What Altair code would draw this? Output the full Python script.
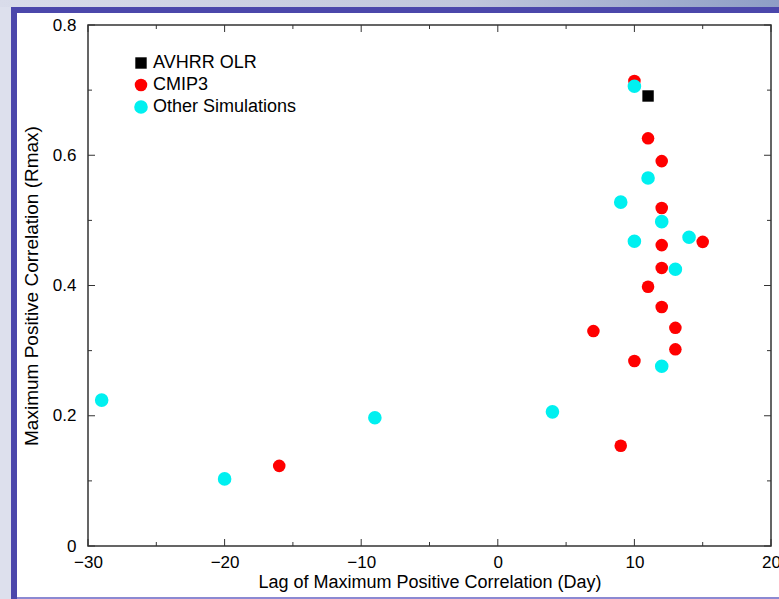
import altair as alt
import pandas as pd

# ---- data ----
series_names = ["AVHRR OLR", "CMIP3", "Other Simulations"]
series_colors = ["#000000", "#ff0000", "#00f0f0"]

cmip3_lag = [-16, 10, 11, 12, 12, 12, 15, 12, 11, 12, 7, 13, 13, 10, 9]
cmip3_r = [0.123, 0.714, 0.626, 0.591, 0.519, 0.462, 0.467, 0.427, 0.398,
           0.367, 0.330, 0.335, 0.302, 0.284, 0.154]

other_lag = [-29, -20, -9, 4, 10, 9, 11, 10, 12, 14, 13, 12]
other_r = [0.224, 0.103, 0.197, 0.206, 0.706, 0.528, 0.565, 0.468, 0.498,
           0.474, 0.425, 0.276]

avhrr_lag = [11]
avhrr_r = [0.691]

x_major = [-30, -20, -10, 0, 10, 20]
x_minor = [-25, -15, -5, 5, 15]
y_major = [0, 0.2, 0.4, 0.6, 0.8]
y_minor = [0.1, 0.3, 0.5, 0.7]

# ---- tables ----
rows = []
for x, y in zip(cmip3_lag, cmip3_r):
    rows.append({"lag": x, "r": y, "series": "CMIP3"})
for x, y in zip(other_lag, other_r):
    rows.append({"lag": x, "r": y, "series": "Other Simulations"})
for x, y in zip(avhrr_lag, avhrr_r):
    rows.append({"lag": x, "r": y, "series": "AVHRR OLR"})
pts = pd.DataFrame(rows)

W, H = 683, 521
FONT = "Liberation Sans"

xscale = alt.Scale(domain=[-30, 20], nice=False, zero=False)
yscale = alt.Scale(domain=[0, 0.8], nice=False, zero=False)

one = pd.DataFrame({"a": [0]})

# ---- decoration: slide background, purple border ----
left_strip = alt.Chart(one).mark_rect(fill="#dde0ed").encode(
    x=alt.value(-88), x2=alt.value(-77), y=alt.value(-25), y2=alt.value(574))
top_strip = alt.Chart(one).mark_rect(
    fill=alt.LinearGradient(
        gradient="linear", x1=0, x2=1, y1=0, y2=0,
        stops=[alt.GradientStop(color="#d9dcea", offset=0),
               alt.GradientStop(color="#c0c6dc", offset=0.6),
               alt.GradientStop(color="#8e9ec6", offset=1)])
).encode(x=alt.value(-88), x2=alt.value(691), y=alt.value(-25), y2=alt.value(-18))
border = alt.Chart(one).mark_rect(fill="white", fillOpacity=0, stroke="#4b47ab",
                                  strokeWidth=6).encode(
    x=alt.value(-74), x2=alt.value(730), y=alt.value(-15), y2=alt.value(600))
bottom_line = alt.Chart(one).mark_rule(color="#8c89d2", strokeWidth=2).encode(
    x=alt.value(-71), x2=alt.value(700), y=alt.value(573), y2=alt.value(573))

# ---- ticks (inward) ----
tick_color = "#333333"


def xticks(vals, length):
    d = pd.DataFrame({"v": vals})
    bot = alt.Chart(d).mark_rule(color=tick_color, strokeWidth=1).encode(
        x=alt.X("v:Q", scale=xscale), y=alt.value(H), y2=alt.value(H - length))
    top = alt.Chart(d).mark_rule(color=tick_color, strokeWidth=1).encode(
        x=alt.X("v:Q", scale=xscale), y=alt.value(0), y2=alt.value(length))
    return [bot, top]


def yticks(vals, length):
    d = pd.DataFrame({"v": vals})
    lft = alt.Chart(d).mark_rule(color=tick_color, strokeWidth=1).encode(
        y=alt.Y("v:Q", scale=yscale), x=alt.value(0), x2=alt.value(length))
    rgt = alt.Chart(d).mark_rule(color=tick_color, strokeWidth=1).encode(
        y=alt.Y("v:Q", scale=yscale), x=alt.value(W), x2=alt.value(W - length))
    return [lft, rgt]


ticks = xticks(x_major, 7) + xticks(x_minor, 4) + yticks(y_major, 7) + yticks(y_minor, 4)

# ---- points ----
points = alt.Chart(pts).mark_point(filled=True, opacity=1, strokeWidth=0).encode(
    x=alt.X("lag:Q", scale=xscale,
            axis=alt.Axis(values=x_major, ticks=False, tickSize=0, domain=False,
                          grid=False, labelFontSize=17, labelFont=FONT,
                          labelColor="black", labelPadding=8, labelFlush=False,
                          labelOverlap=False,
                          title="Lag of Maximum Positive Correlation (Day)",
                          titleFont=FONT, titleFontSize=18, titleFontWeight="normal",
                          titleColor="black", titlePadding=3)),
    y=alt.Y("r:Q", scale=yscale,
            axis=alt.Axis(values=y_major, ticks=False, tickSize=0, domain=False,
                          grid=False, labelFontSize=17, labelFont=FONT,
                          labelColor="black", labelPadding=12, labelFlush=False,
                          labelOverlap=False,
                          labelExpr="datum.value == 0 ? '0' : format(datum.value, '.1f')",
                          title="Maximum Positive Correlation (Rmax)",
                          titleFont=FONT, titleFontSize=19, titleFontWeight="normal",
                          titleColor="black", titlePadding=11)),
    color=alt.Color("series:N",
                    scale=alt.Scale(domain=series_names, range=series_colors),
                    legend=alt.Legend(orient="none", legendX=44, legendY=29,
                                      title=None, labelFont=FONT, labelFontSize=18,
                                      labelColor="black", rowPadding=4,
                                      labelOffset=3, padding=0,
                                      symbolStrokeWidth=0)),
    shape=alt.Shape("series:N",
                    scale=alt.Scale(domain=series_names,
                                    range=["square", "circle", "circle"])),
    size=alt.Size("series:N",
                  scale=alt.Scale(domain=series_names, range=[130, 185, 185])),
)

chart = alt.layer(left_strip, top_strip, border, bottom_line, *ticks, points).properties(
    width=W, height=H,
    autosize=alt.AutoSizeParams(type="none"),
    padding={"left": 88, "top": 25, "right": 8, "bottom": 53},
    background="white",
).configure_view(stroke="#333333", strokeWidth=1.5)

chart.save("out.html", embed_options={"renderer": "svg", "actions": False})
